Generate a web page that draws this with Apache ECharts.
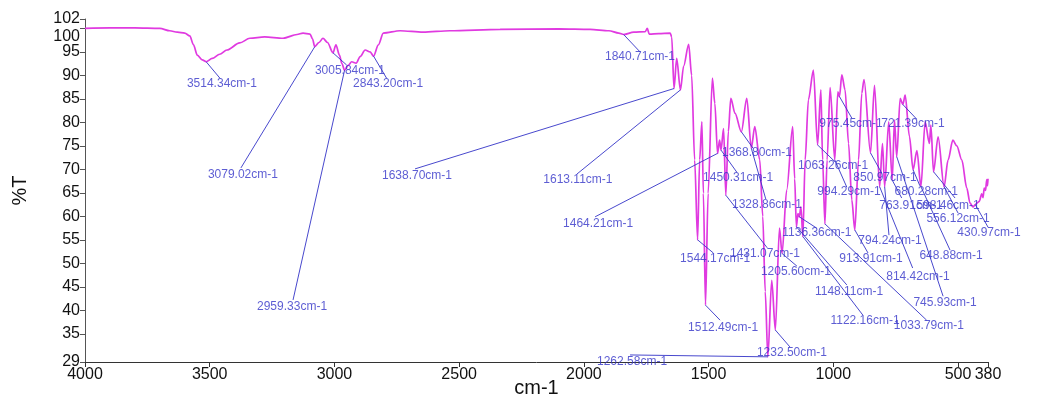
<!DOCTYPE html>
<html>
<head>
<meta charset="utf-8">
<title>IR spectrum</title>
<script src="https://cdn.jsdelivr.net/npm/echarts@6.0.0/dist/echarts.min.js"></script>
<style>
  html, body { margin: 0; padding: 0; background: #fff; }
  #chart { width: 1062px; height: 398px; }
</style>
</head>
<body>
<div id="chart"></div>
<script>
// spectrum: wavenumber (cm-1) and transmittance (%T)
const wavenumber = [
  4000, 3900, 3800, 3700, 3660, 3630, 3600, 3580, 3565, 3550,
  3530, 3514.34, 3490, 3460, 3431, 3380, 3339, 3280, 3206, 3150,
  3126, 3098, 3088, 3079.02, 3062, 3046, 3028, 3005.84, 2994, 2980,
  2970, 2959.33, 2944, 2931, 2913, 2897, 2877, 2857, 2843.20, 2824,
  2804, 2737, 2645, 2537, 2336, 2100, 1975, 1900, 1860, 1840.71,
  1800, 1754, 1746, 1738, 1700, 1654, 1648, 1638.70, 1628, 1613.11,
  1600, 1580, 1568, 1556, 1544.17, 1536, 1527, 1521, 1512.49, 1502,
  1485, 1475, 1464.21, 1456, 1450.31, 1440, 1431.07, 1421, 1411, 1394,
  1368.80, 1347, 1328.86, 1315, 1295, 1283, 1273, 1262.58, 1247, 1232.50,
  1216, 1205.60, 1187, 1163, 1155, 1148.11, 1142, 1136.36, 1130, 1122.16,
  1113, 1100, 1080, 1063.26, 1050, 1043, 1033.79, 1025, 1013, 994.29,
  982, 975.45, 966, 953, 939, 926, 913.91, 899, 886, 877,
  850.97, 835, 814.42, 803, 794.24, 778, 763.91, 755, 745.93, 732,
  721.39, 712, 695, 680.28, 665, 648.88, 632, 615, 609, 598.46,
  580, 556.12, 540, 521, 505, 485, 465, 452, 440, 430.97,
  425, 415, 405, 400, 395, 390, 385, 382, 380
];
const transmittance = [
  100.0, 100.1, 100.1, 100.0, 99.5, 99.2, 99.0, 98.4, 96.5, 94.3,
  93.3, 92.9, 93.6, 94.5, 95.4, 96.9, 97.9, 98.2, 97.9, 98.7,
  99.0, 98.8, 97.8, 96.1, 97.0, 97.9, 97.0, 94.8, 96.5, 94.3,
  92.5, 91.1, 92.2, 92.9, 92.6, 94.0, 95.4, 95.0, 94.1, 96.5,
  99.0, 99.5, 99.2, 99.5, 99.8, 99.9, 99.8, 99.5, 99.0, 98.7,
  99.2, 99.3, 100.0, 98.8, 98.9, 99.0, 98.2, 87.2, 93.6, 86.9,
  92.0, 96.6, 90.0, 72.0, 55.0, 72.0, 80.1, 64.9, 41.1, 64.9,
  89.4, 84.0, 73.4, 76.2, 74.1, 78.7, 64.5, 78.0, 85.1, 81.9,
  78.0, 85.1, 74.5, 79.1, 72.0, 60.0, 44.0, 30.1, 46.4, 35.8,
  57.5, 52.1, 65.6, 79.1, 68.0, 57.8, 60.6, 59.9, 62.0, 55.7,
  72.0, 84.8, 91.1, 75.2, 86.9, 72.0, 58.4, 72.0, 87.4, 72.0,
  86.5, 85.5, 90.1, 86.9, 75.5, 63.5, 57.1, 72.0, 86.2, 89.1,
  73.5, 87.9, 66.3, 75.5, 66.3, 80.1, 67.7, 80.5, 72.7, 85.1,
  83.8, 85.8, 77.0, 69.9, 74.0, 66.3, 80.1, 75.5, 79.4, 69.5,
  76.9, 66.3, 72.0, 76.2, 75.0, 72.0, 66.0, 62.8, 62.0, 62.5,
  62.8, 63.2, 64.8, 64.0, 66.0, 65.5, 67.8, 66.5, 68.0
];

// tick labels
const xTicks = [4000, 3500, 3000, 2500, 2000, 1500, 1000, 500, 380];
const yTicks = [29, 35, 40, 45, 50, 55, 60, 65, 70, 75, 80, 85, 90, 95];
const yTick100 = [100];
const yTick102 = [102];

// picked peaks (cm-1)
const peaks = [
  3514.34, 3079.02, 2959.33, 3005.84, 2843.20, 1840.71, 1638.70, 1613.11,
  1464.21, 1450.31, 1368.80, 1328.86, 1431.07, 1544.17, 1205.60, 1512.49,
  1232.50, 1262.58, 1136.36, 1148.11, 1122.16, 1033.79, 913.91, 794.24,
  814.42, 745.93, 648.88, 763.91, 598.46, 680.28, 721.39, 975.45,
  1063.26, 994.29, 850.97, 430.97, 556.12
];

// where each peak label sits, and where its leader ends (cm-1, %T)
const labelAt = [
  [3451, 88.2], [3367, 68.8], [3170, 40.7], [2938, 90.9], [2785, 88.2], [1775, 93.9], [2669, 68.6], [2024, 67.7],
  [1943, 58.4], [1382, 68.2], [1306, 73.5], [1266, 62.4], [1274, 52.0], [1474, 50.9], [1150, 48.2], [1442, 36.4],
  [1166, 30.9], [1807, 29.0], [1066, 56.5], [937, 43.9], [873, 37.7], [617, 36.7], [849, 50.9], [773, 54.8],
  [661, 47.1], [552, 41.6], [528, 51.6], [689, 62.2], [540, 62.2], [628, 65.2], [681, 79.7], [929, 79.7],
  [1001, 70.7], [937, 65.2], [793, 68.2], [376, 56.5], [500, 59.4]
];
const leaderEnd = [
  [3459, 89.4], [3375, 70.3], [3166, 42.2], [2951, 92.2], [2791, 89.4], [1775, 95.0], [2677, 70.1], [2028, 69.0],
  [1955, 59.9], [1387, 69.4], [1322, 74.5], [1271, 63.7], [1265, 53.3], [1481, 52.2], [1146, 49.4], [1454, 37.9],
  [1174, 32.2], [1815, 30.5], [1067, 57.5], [946, 45.4], [882, 39.0], [626, 37.9], [861, 52.2], [777, 56.0],
  [682, 49.0], [560, 43.0], [532, 52.8], [726, 63.9], [512, 63.9], [653, 66.5], [666, 80.7], [926, 80.9],
  [993, 71.6], [946, 66.2], [806, 69.2], [380, 57.7], [500, 60.7]
];

const FONT = 'Liberation Sans, Arial, Helvetica, sans-serif';
const LINE_PINK = '#e03ae0';
const ANN_BLUE = '#3434c8';

// %T on the curve at a given wavenumber
function tAt(w) {
  for (let i = 0; i < wavenumber.length - 1; i++) {
    const a = wavenumber[i], b = wavenumber[i + 1];
    if (w <= a && w >= b) {
      const f = (a - w) / (a - b);
      return transmittance[i] + f * (transmittance[i + 1] - transmittance[i]);
    }
  }
  return transmittance[transmittance.length - 1];
}

const spectrum = wavenumber.map((w, i) => [w, transmittance[i]]);
const leaders = peaks.map((p, i) => [
  { coord: [p, tAt(p)] },
  { coord: leaderEnd[i] }
]);
const peakLabels = peaks.map((p, i) => ({
  name: p.toFixed(2) + 'cm-1',
  value: labelAt[i]
}));

const yLabelStyle = { fontSize: 16, color: '#111', margin: 5, fontFamily: FONT, showMinLabel: true, showMaxLabel: true };

// extra left axes that only carry one crowded top label each
function labelOnlyAxis(values, extraLabel) {
  return {
    type: 'value',
    min: 29,
    max: 102,
    position: 'left',
    axisLine: { show: false },
    axisTick: { show: true, customValues: values, length: 5, lineStyle: { color: '#555' } },
    axisLabel: Object.assign({}, yLabelStyle, { customValues: values }, extraLabel || {}),
    splitLine: { show: false }
  };
}

const chart = echarts.init(document.getElementById('chart'));
chart.setOption({
  animation: false,
  textStyle: { fontFamily: FONT },
  grid: { left: 85, right: 74, top: 19, bottom: 36, outerBoundsMode: 'none', containLabel: false },
  xAxis: {
    type: 'value',
    min: 380,
    max: 4000,
    inverse: true,
    name: 'cm-1',
    nameLocation: 'middle',
    nameGap: 16,
    nameMoveOverlap: false,
    nameTextStyle: { fontSize: 20, color: '#111', fontFamily: FONT },
    axisLine: { show: true, onZero: false, lineStyle: { color: '#333', width: 1 } },
    axisTick: { show: true, customValues: xTicks, length: 5, lineStyle: { color: '#333' } },
    axisLabel: {
      customValues: xTicks, fontSize: 16, color: '#111', margin: 5, fontFamily: FONT,
      showMinLabel: true, showMaxLabel: true,
      formatter: v => String(v)
    },
    splitLine: { show: false }
  },
  yAxis: [
    {
      type: 'value',
      min: 29,
      max: 102,
      name: '%T',
      nameLocation: 'middle',
      nameGap: 55,
      nameRotate: 90,
      nameMoveOverlap: false,
      nameTextStyle: { fontSize: 20, color: '#111', fontFamily: FONT },
      axisLine: { show: true, onZero: false, lineStyle: { color: '#555', width: 1 } },
      axisTick: { show: true, customValues: yTicks, length: 5, lineStyle: { color: '#555' } },
      axisLabel: Object.assign({}, yLabelStyle, { customValues: yTicks }),
      splitLine: { show: false }
    },
    labelOnlyAxis(yTick102),
    labelOnlyAxis(yTick100, {
      formatter: v => '{lo|' + v + '}',
      rich: { lo: { padding: [16, 0, 0, 0], fontSize: 16, color: '#111', fontFamily: FONT } }
    })
  ],
  series: [
    {
      type: 'line',
      data: spectrum,
      showSymbol: false,
      smooth: 0.3,
      smoothMonotone: 'x',
      lineStyle: { color: LINE_PINK, width: 1.7 },
      itemStyle: { color: LINE_PINK },
      silent: true,
      markLine: {
        silent: true,
        symbol: ['none', 'none'],
        animation: false,
        label: { show: false },
        lineStyle: { color: ANN_BLUE, width: 1, type: 'solid', opacity: 0.9 },
        emphasis: { disabled: true },
        data: leaders
      }
    },
    {
      type: 'scatter',
      data: peakLabels,
      symbolSize: 0,
      clip: false,
      silent: true,
      label: {
        show: true,
        position: 'inside',
        formatter: '{b}',
        color: ANN_BLUE,
        fontSize: 12,
        fontFamily: FONT
      },
      z: 5
    }
  ]
});
</script>
</body>
</html>
